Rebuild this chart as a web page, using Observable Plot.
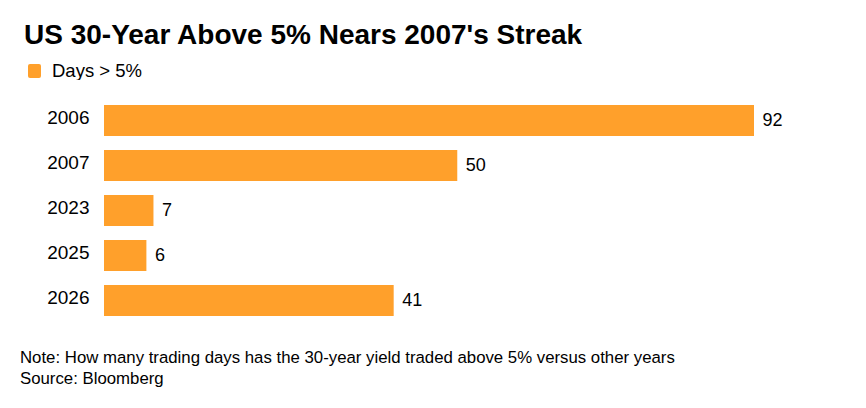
<!DOCTYPE html>
<html>
<head>
<meta charset="utf-8">
<script src="https://cdn.jsdelivr.net/npm/d3@7"></script>
<script src="https://cdn.jsdelivr.net/npm/@observablehq/plot@0.6"></script>
<style>
  html, body { margin: 0; padding: 0; background: #fff; }
  body { width: 866px; height: 408px; position: relative; overflow: hidden; font-family: "Liberation Sans", Arial, sans-serif; color: #000; }
  #title { position: absolute; left: 24px; top: 19px; font-size: 28px; font-weight: bold; white-space: nowrap; }
  #legend { position: absolute; left: 28px; top: 60px; font-size: 18.5px; display: flex; align-items: center; white-space: nowrap; }
  #legend .sw { width: 13px; height: 14px; border-radius: 2px; background: #ffa02b; margin-right: 11px; }
  #chart { position: absolute; left: 0; top: 80px; }
  #note { position: absolute; left: 20px; top: 347px; font-size: 16.8px; line-height: 21px; white-space: nowrap; }
</style>
</head>
<body>
<div id="title">US 30-Year Above 5% Nears 2007's Streak</div>
<div id="legend"><span class="sw"></span><span>Days &gt; 5%</span></div>
<div id="chart"></div>
<div id="note">Note: How many trading days has the 30-year yield traded above 5% versus other years<br>Source: Bloomberg</div>
<script>
const years = ["2006", "2007", "2023", "2025", "2026"];
const days = [92, 50, 7, 6, 41];
const data = years.map((y, i) => ({year: y, days: days[i]}));

const plot = Plot.plot({
  width: 866,
  height: 260,
  marginLeft: 104,
  marginRight: 112,
  marginTop: 10,
  marginBottom: 8,
  style: {fontFamily: "Liberation Sans, Arial, sans-serif", fontSize: "18px", color: "#000", background: "#fff"},
  x: {domain: [0, 92], axis: null},
  y: {domain: years, padding: 0.3, label: null, axis: null},
  marks: [
    Plot.barX(data, {x: "days", y: "year", fill: "#ffa02b"}),
    Plot.text(data, {x: "days", y: "year", text: d => String(d.days), textAnchor: "start", dx: 8, dy: -1, fontSize: 18, fill: "#000"}),
    Plot.axisY({tickSize: 0, tickPadding: 15, dy: -3, fontSize: 19, label: null, fill: "#000"})
  ]
});
document.getElementById("chart").appendChild(plot);
</script>
</body>
</html>
